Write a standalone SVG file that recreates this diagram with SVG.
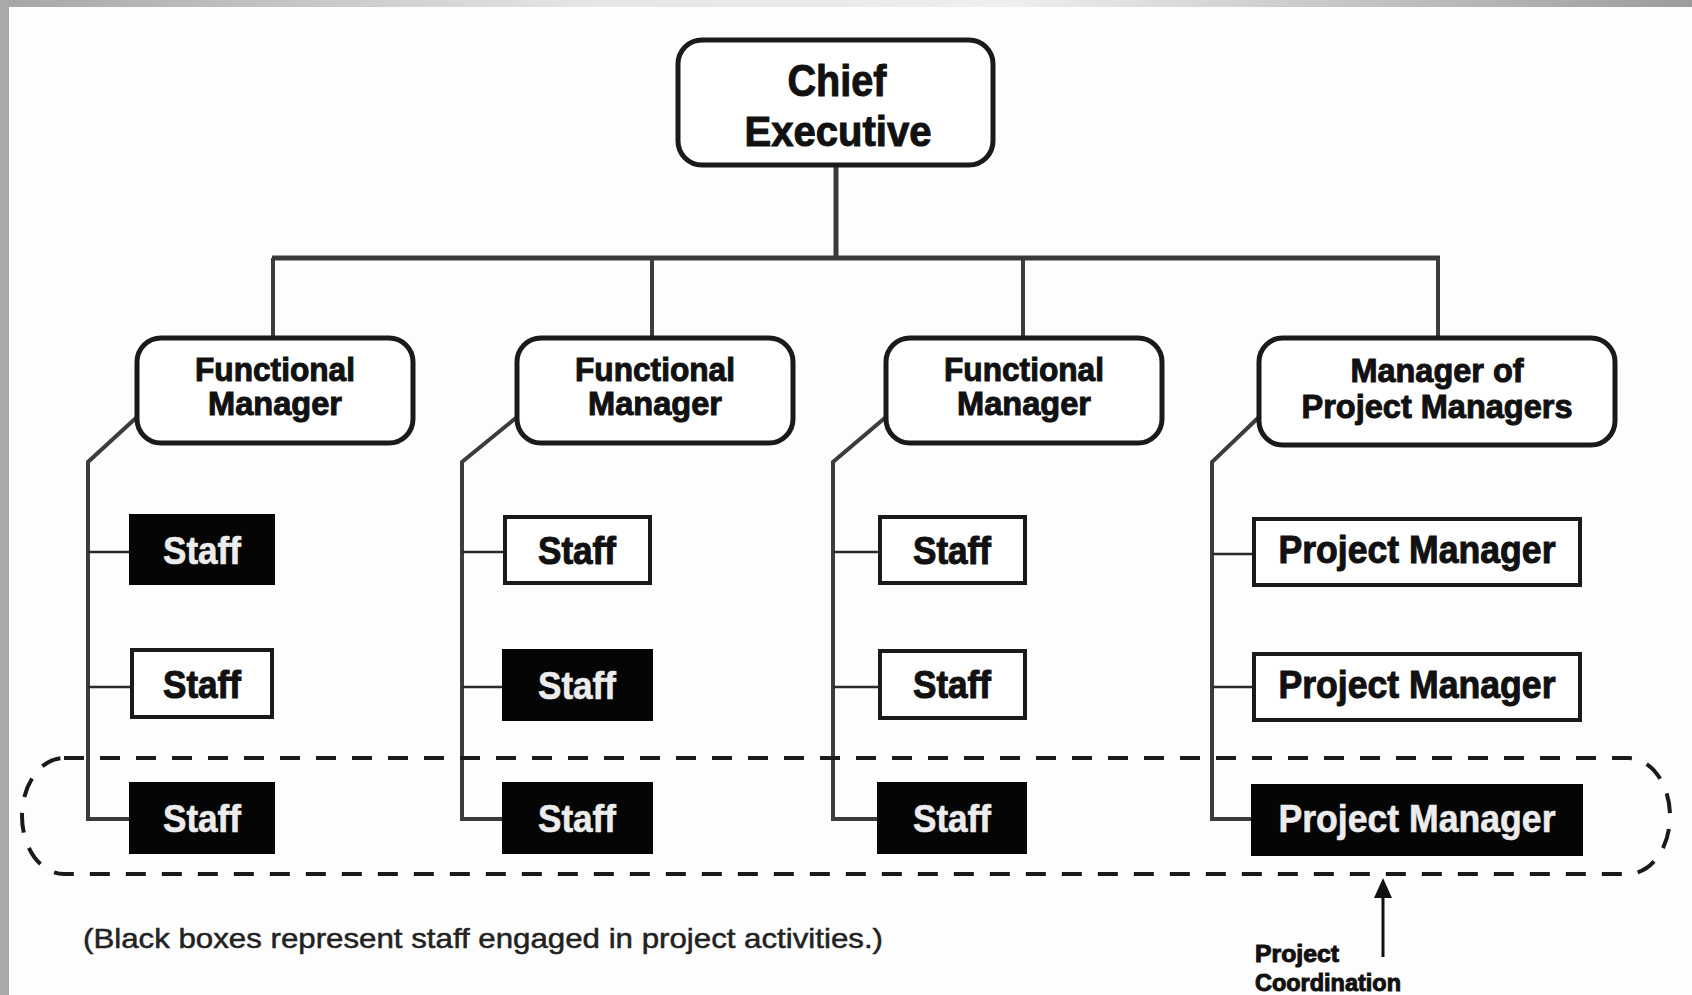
<svg xmlns="http://www.w3.org/2000/svg" width="1692" height="995" viewBox="0 0 1692 995">
  <defs>
    <linearGradient id="topBand" x1="0" y1="0" x2="1" y2="0">
      <stop offset="0" stop-color="#a6a6a6"/>
      <stop offset="0.35" stop-color="#e6e6e6"/>
      <stop offset="0.6" stop-color="#eeeeee"/>
      <stop offset="1" stop-color="#9c9c9c"/>
    </linearGradient>
    <style>
      .lbl { font-family: "Liberation Sans", Arial, sans-serif; font-weight: bold; text-anchor: middle; fill: #111; stroke: #111; stroke-width: 1; }
      .inv { fill: #ececec; stroke: #ececec; stroke-width: 0.6; }
      .mgr { fill: #fff; stroke: #1a1a1a; stroke-width: 5; }
      .box { fill: #fff; stroke: #1a1a1a; stroke-width: 4; }
      .dark { fill: #050505; stroke: #050505; stroke-width: 2; }
      .trunk { fill: none; stroke: #3a3a3a; stroke-width: 5; }
      .side { fill: none; stroke: #3c3c3c; stroke-width: 4; }
      .tick { fill: none; stroke: #2a2a2a; stroke-width: 2.5; }
      .group { fill: none; stroke: #1a1a1a; stroke-width: 4; stroke-dasharray: 20 16; }
      .note { font-family: "Liberation Sans", Arial, sans-serif; fill: #222; stroke: #222; stroke-width: 0.5; }
    </style>
  </defs>

  <!-- page background and frame -->
  <rect x="0" y="0" width="1692" height="995" fill="#fdfdfd"/>
  <rect x="0" y="0" width="1692" height="7" fill="url(#topBand)"/>
  <rect x="0" y="0" width="9" height="995" fill="#a9a9a9"/>

  <!-- connectors -->
  <g id="connectors">
    <path class="trunk" d="M836,167 V258"/>
    <path class="trunk" d="M272,258 H1440"/>
    <path class="side" d="M273,258 V337 M652,258 V337 M1023,258 V337 M1438,258 V337"/>
    <!-- branch lines down the left of each department -->
    <path class="side" d="M137,417 L88,462 V819 H130"/>
    <path class="side" d="M517,417 L462,462 V819 H503"/>
    <path class="side" d="M886,417 L833,462 V819 H878"/>
    <path class="side" d="M1259,417 L1212,462 V819 H1252"/>
    <path class="tick" d="M88,552 H130 M88,687 H130"/>
    <path class="tick" d="M462,552 H503 M462,687 H503"/>
    <path class="tick" d="M833,552 H878 M833,687 H878"/>
    <path class="tick" d="M1212,554 H1252 M1212,687 H1252"/>
    <!-- project coordination arrow -->
    <path d="M1383,957 V898" stroke="#111" stroke-width="3" fill="none"/>
    <path d="M1374,898 L1383,878 L1392,898 z" fill="#111"/>
  </g>

  <!-- top level -->
  <g id="chief-executive">
    <rect class="mgr" x="678" y="40" width="315" height="125" rx="24"/>
    <text class="lbl" x="837" y="96" font-size="44" textLength="99" lengthAdjust="spacingAndGlyphs">Chief</text>
    <text class="lbl" x="838" y="146" font-size="42" textLength="187" lengthAdjust="spacingAndGlyphs">Executive</text>
  </g>

  <!-- second level -->
  <g id="functional-manager-1">
    <rect class="mgr" x="137" y="338" width="276" height="105" rx="24"/>
    <text class="lbl" x="275" y="381" font-size="33" textLength="160" lengthAdjust="spacingAndGlyphs">Functional</text>
    <text class="lbl" x="275" y="415" font-size="33" textLength="134" lengthAdjust="spacingAndGlyphs">Manager</text>
  </g>
  <g id="functional-manager-2">
    <rect class="mgr" x="517" y="338" width="276" height="105" rx="24"/>
    <text class="lbl" x="655" y="381" font-size="33" textLength="160" lengthAdjust="spacingAndGlyphs">Functional</text>
    <text class="lbl" x="655" y="415" font-size="33" textLength="134" lengthAdjust="spacingAndGlyphs">Manager</text>
  </g>
  <g id="functional-manager-3">
    <rect class="mgr" x="886" y="338" width="276" height="105" rx="24"/>
    <text class="lbl" x="1024" y="381" font-size="33" textLength="160" lengthAdjust="spacingAndGlyphs">Functional</text>
    <text class="lbl" x="1024" y="415" font-size="33" textLength="134" lengthAdjust="spacingAndGlyphs">Manager</text>
  </g>
  <g id="manager-of-project-managers">
    <rect class="mgr" x="1259" y="338" width="356" height="107" rx="24"/>
    <text class="lbl" x="1437" y="382" font-size="33" textLength="173" lengthAdjust="spacingAndGlyphs">Manager of</text>
    <text class="lbl" x="1437" y="418" font-size="33" textLength="271" lengthAdjust="spacingAndGlyphs">Project Managers</text>
  </g>

  <!-- department 1 staff -->
  <g id="staff-1-1">
    <rect class="dark" x="130" y="515" width="144" height="69"/>
    <text class="lbl inv" x="202" y="564" font-size="38" textLength="78" lengthAdjust="spacingAndGlyphs">Staff</text>
  </g>
  <g id="staff-1-2">
    <rect class="box" x="132" y="650" width="140" height="67"/>
    <text class="lbl" x="202" y="698" font-size="38" textLength="78" lengthAdjust="spacingAndGlyphs">Staff</text>
  </g>
  <g id="staff-1-3">
    <rect class="dark" x="130" y="783" width="144" height="70"/>
    <text class="lbl inv" x="202" y="832" font-size="38" textLength="78" lengthAdjust="spacingAndGlyphs">Staff</text>
  </g>

  <!-- department 2 staff -->
  <g id="staff-2-1">
    <rect class="box" x="505" y="517" width="145" height="66"/>
    <text class="lbl" x="577" y="564" font-size="38" textLength="78" lengthAdjust="spacingAndGlyphs">Staff</text>
  </g>
  <g id="staff-2-2">
    <rect class="dark" x="503" y="650" width="149" height="70"/>
    <text class="lbl inv" x="577" y="699" font-size="38" textLength="78" lengthAdjust="spacingAndGlyphs">Staff</text>
  </g>
  <g id="staff-2-3">
    <rect class="dark" x="503" y="783" width="149" height="70"/>
    <text class="lbl inv" x="577" y="832" font-size="38" textLength="78" lengthAdjust="spacingAndGlyphs">Staff</text>
  </g>

  <!-- department 3 staff -->
  <g id="staff-3-1">
    <rect class="box" x="880" y="517" width="145" height="66"/>
    <text class="lbl" x="952" y="564" font-size="38" textLength="78" lengthAdjust="spacingAndGlyphs">Staff</text>
  </g>
  <g id="staff-3-2">
    <rect class="box" x="880" y="651" width="145" height="67"/>
    <text class="lbl" x="952" y="698" font-size="38" textLength="78" lengthAdjust="spacingAndGlyphs">Staff</text>
  </g>
  <g id="staff-3-3">
    <rect class="dark" x="878" y="783" width="148" height="70"/>
    <text class="lbl inv" x="952" y="832" font-size="38" textLength="78" lengthAdjust="spacingAndGlyphs">Staff</text>
  </g>

  <!-- project managers -->
  <g id="project-manager-1">
    <rect class="box" x="1254" y="519" width="326" height="66"/>
    <text class="lbl" x="1417" y="563" font-size="38" textLength="277" lengthAdjust="spacingAndGlyphs">Project Manager</text>
  </g>
  <g id="project-manager-2">
    <rect class="box" x="1254" y="654" width="326" height="66"/>
    <text class="lbl" x="1417" y="698" font-size="38" textLength="277" lengthAdjust="spacingAndGlyphs">Project Manager</text>
  </g>
  <g id="project-manager-3">
    <rect class="dark" x="1252" y="785" width="330" height="70"/>
    <text class="lbl inv" x="1417" y="832" font-size="38" textLength="277" lengthAdjust="spacingAndGlyphs">Project Manager</text>
  </g>

  <!-- staff engaged in project work -->
  <g id="project-group">
    <rect class="group" x="22" y="758" width="1648" height="116" rx="42" ry="58"/>
  </g>

  <g id="legend">
    <text class="note" x="83" y="948" font-size="28" textLength="800" lengthAdjust="spacingAndGlyphs">(Black boxes represent staff engaged in project activities.)</text>
  </g>
  <g id="project-coordination">
    <text class="lbl" x="1255" y="962" font-size="24" style="text-anchor:start" textLength="84" lengthAdjust="spacingAndGlyphs">Project</text>
    <text class="lbl" x="1255" y="991" font-size="24" style="text-anchor:start" textLength="146" lengthAdjust="spacingAndGlyphs">Coordination</text>
  </g>
</svg>
